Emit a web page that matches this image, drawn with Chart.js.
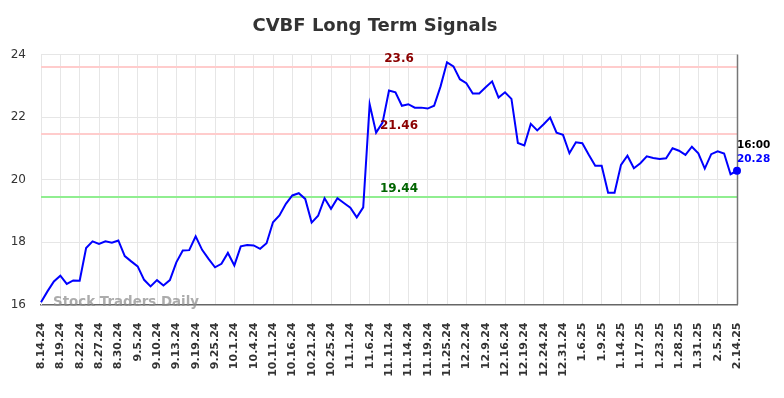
<!DOCTYPE html>
<html>
<head>
<meta charset="utf-8">
<script src="https://cdn.jsdelivr.net/npm/chart.js@4.4.0/dist/chart.umd.min.js"></script>
<style>
  html, body { margin: 0; padding: 0; background: #fff; }
  #chart { display: block; }
</style>
</head>
<body>
<canvas id="chart" width="784" height="398"></canvas>
<script>
// trading days, every 3rd one is shown on the axis
const dates = [
  "8.14.24", "8.15.24", "8.16.24", "8.19.24", "8.20.24", "8.21.24",
  "8.22.24", "8.23.24", "8.26.24", "8.27.24", "8.28.24", "8.29.24",
  "8.30.24", "9.3.24", "9.4.24", "9.5.24", "9.6.24", "9.9.24",
  "9.10.24", "9.11.24", "9.12.24", "9.13.24", "9.16.24", "9.18.24",
  "9.19.24", "9.20.24", "9.24.24", "9.25.24", "9.26.24", "9.30.24",
  "10.1.24", "10.2.24", "10.3.24", "10.4.24", "10.7.24", "10.9.24",
  "10.11.24", "10.14.24", "10.15.24", "10.16.24", "10.17.24", "10.18.24",
  "10.21.24", "10.22.24", "10.24.24", "10.25.24", "10.28.24", "10.30.24",
  "11.1.24", "11.4.24", "11.5.24", "11.6.24", "11.7.24", "11.8.24",
  "11.11.24", "11.12.24", "11.13.24", "11.14.24", "11.15.24", "11.18.24",
  "11.19.24", "11.20.24", "11.22.24", "11.25.24", "11.26.24", "11.29.24",
  "12.2.24", "12.4.24", "12.6.24", "12.9.24", "12.11.24", "12.13.24",
  "12.16.24", "12.17.24", "12.18.24", "12.19.24", "12.20.24", "12.23.24",
  "12.24.24", "12.26.24", "12.27.24", "12.31.24", "1.2.25", "1.3.25",
  "1.6.25", "1.7.25", "1.8.25", "1.9.25", "1.10.25", "1.13.25",
  "1.14.25", "1.15.25", "1.16.25", "1.17.25", "1.21.25", "1.22.25",
  "1.23.25", "1.24.25", "1.27.25", "1.28.25", "1.29.25", "1.30.25",
  "1.31.25", "2.3.25", "2.4.25", "2.5.25", "2.7.25", "2.11.25",
  "2.14.25"
];

const prices = [
  16.07, 16.42, 16.74, 16.92, 16.66, 16.77, 16.76, 17.81, 18.02, 17.94,
  18.02, 17.98, 18.05, 17.55, 17.38, 17.22, 16.79, 16.58, 16.78, 16.61,
  16.78, 17.35, 17.73, 17.74, 18.18, 17.75, 17.46, 17.19, 17.30, 17.65,
  17.25, 17.86, 17.90, 17.89, 17.78, 17.96, 18.63, 18.85, 19.22, 19.49,
  19.56, 19.38, 18.62, 18.84, 19.40, 19.06, 19.40, 19.25, 19.10, 18.79,
  19.11, 22.41, 21.50, 21.82, 22.85, 22.79, 22.36, 22.41, 22.30, 22.30,
  22.27, 22.36, 22.98, 23.75, 23.62, 23.21, 23.08, 22.75, 22.75, 22.95,
  23.14, 22.62, 22.79, 22.58, 21.17, 21.09, 21.78, 21.57, 21.77, 21.98,
  21.50, 21.43, 20.84, 21.19, 21.16, 20.79, 20.44, 20.44, 19.58, 19.58,
  20.47, 20.76, 20.36, 20.52, 20.74, 20.69, 20.66, 20.68, 21.00, 20.92,
  20.79, 21.05, 20.84, 20.35, 20.81, 20.90, 20.83, 20.17, 20.28
];

const yTicks = [16, 18, 20, 22, 24];

const signalValues = [23.6, 21.46, 19.44];
const signalLabels = ["23.6", "21.46", "19.44"];
const signalLineColors = ["#ffcccc", "#ffcccc", "#90ee90"];
const signalTextColors = ["#8b0000", "#8b0000", "#006400"];

const lastTime = "16:00";
const lastPrice = "20.28";

const FONT = "'DejaVu Sans', sans-serif";

const overlay = {
  id: "overlay",
  beforeDatasetsDraw(chart) {
    const { ctx, chartArea, scales } = chart;
    ctx.save();
    signalValues.forEach((v, i) => {
      const y = scales.y.getPixelForValue(v);
      ctx.strokeStyle = signalLineColors[i];
      ctx.lineWidth = 2;
      ctx.beginPath();
      ctx.moveTo(chartArea.left, y);
      ctx.lineTo(chartArea.right, y);
      ctx.stroke();
    });
    // right border
    ctx.strokeStyle = "#777";
    ctx.lineWidth = 1.5;
    ctx.beginPath();
    ctx.moveTo(chartArea.right + 0.5, chartArea.top);
    ctx.lineTo(chartArea.right + 0.5, chartArea.bottom);
    ctx.stroke();
    ctx.restore();
  },
  afterDraw(chart) {
    const { ctx, chartArea, scales } = chart;
    ctx.save();
    ctx.textAlign = "center";
    ctx.textBaseline = "middle";

    ctx.font = "bold 18px " + FONT;
    ctx.fillStyle = "#333";
    ctx.fillText("CVBF Long Term Signals", 375, 26);

    ctx.font = "bold 12px " + FONT;
    signalValues.forEach((v, i) => {
      const y = scales.y.getPixelForValue(v);
      ctx.fillStyle = signalTextColors[i];
      ctx.fillText(signalLabels[i], 399, y - 8);
    });

    ctx.font = "bold 13.4px " + FONT;
    ctx.fillStyle = "rgba(140,140,140,0.72)";
    ctx.textAlign = "left";
    ctx.fillText("Stock Traders Daily", 53, 302.5);

    ctx.font = "bold 10.5px " + FONT;
    ctx.fillStyle = "#000";
    ctx.fillText(lastTime, chartArea.right, 145.5);
    ctx.fillStyle = "#0000ff";
    ctx.fillText(lastPrice, chartArea.right, 159.5);
    ctx.restore();
  }
};

new Chart(document.getElementById("chart"), {
  type: "line",
  data: {
    labels: dates,
    datasets: [{
      data: prices,
      borderColor: "#0000ff",
      borderWidth: 2,
      tension: 0,
      pointRadius: (c) => (c.dataIndex === prices.length - 1 ? 4 : 0),
      pointBackgroundColor: "#0000ff",
      pointBorderColor: "#0000ff",
      pointBorderWidth: 0
    }]
  },
  options: {
    responsive: false,
    animation: false,
    layout: { padding: { top: 54.5, right: 47, left: 0, bottom: 0 } },
    plugins: {
      legend: { display: false },
      tooltip: { enabled: false }
    },
    scales: {
      x: {
        offset: false,
        afterFit: (s) => { s.height = 93.5; },
        grid: { color: "#e6e6e6", drawTicks: false },
        border: { color: "#666", width: 1.5 },
        ticks: {
          autoSkip: false,
          minRotation: 90,
          maxRotation: 90,
          padding: 18,
          color: "#333",
          font: { family: FONT, size: 11, weight: "bold" },
          callback: (v, i) => (i % 3 === 0 ? dates[i] : null)
        }
      },
      y: {
        min: yTicks[0],
        max: yTicks[yTicks.length - 1],
        afterFit: (s) => { s.width = 41; },
        afterBuildTicks: (s) => { s.ticks = yTicks.map((v) => ({ value: v })); },
        grid: { color: "#e6e6e6", drawTicks: false },
        border: { color: "#e6e6e6" },
        ticks: {
          padding: 15,
          color: "#333",
          font: { family: FONT, size: 12 }
        }
      }
    }
  },
  plugins: [overlay]
});
</script>
</body>
</html>
